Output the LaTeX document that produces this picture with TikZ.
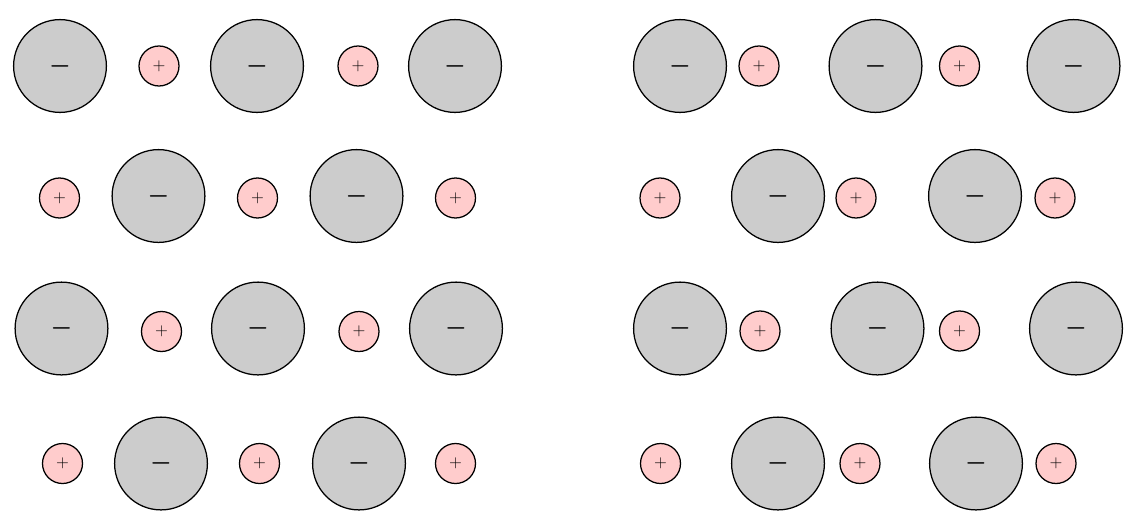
\documentclass[tikz,border=0pt]{standalone}
\definecolor{anionfill}{RGB}{204,204,204}
\definecolor{cationfill}{RGB}{255,204,204}
\begin{document}
\begin{tikzpicture}[x=.25mm,y=-.25mm,line width=.9pt,
 anion/.style={circle,draw,fill=anionfill,inner sep=0pt,minimum size=23.2mm,
  font=\fontsize{16}{18}\selectfont\boldmath},
 cation/.style={circle,draw,fill=cationfill,inner sep=0pt,minimum size=10mm,
  font=\fontsize{12.5}{14}\selectfont}]
\useasboundingbox (0,0) rectangle (1127,519);
% left lattice, row 1: - + - + -
\node[anion] (L1a1) at (60,66) {$-$};
\node[cation] (L1c1) at (159,66) {$+$};
\node[anion] (L1a2) at (257,66) {$-$};
\node[cation] (L1c2) at (358,66) {$+$};
\node[anion] (L1a3) at (455,66) {$-$};
% left lattice, row 2: + - + - +
\node[cation] (L2c1) at (59.5,198) {$+$};
\node[anion] (L2a1) at (158.5,196) {$-$};
\node[cation] (L2c2) at (257.5,198) {$+$};
\node[anion] (L2a2) at (356.5,196) {$-$};
\node[cation] (L2c3) at (455.5,198) {$+$};
% left lattice, row 3
\node[anion] (L3a1) at (61.5,328.5) {$-$};
\node[cation] (L3c1) at (161.5,331.5) {$+$};
\node[anion] (L3a2) at (258,328.5) {$-$};
\node[cation] (L3c2) at (359,331.5) {$+$};
\node[anion] (L3a3) at (456,328.5) {$-$};
% left lattice, row 4
\node[cation] (L4c1) at (62.5,463.5) {$+$};
\node[anion] (L4a1) at (161,463.5) {$-$};
\node[cation] (L4c2) at (259.5,463.5) {$+$};
\node[anion] (L4a2) at (359,463.5) {$-$};
\node[cation] (L4c3) at (455.5,463.5) {$+$};
% right lattice, row 1: cations shifted next to the anions
\node[anion] (R1a1) at (680,66) {$-$};
\node[cation] (R1c1) at (759,66) {$+$};
\node[anion] (R1a2) at (875.5,66) {$-$};
\node[cation] (R1c2) at (959.5,66) {$+$};
\node[anion] (R1a3) at (1073.5,66) {$-$};
% right lattice, row 2
\node[cation] (R2c1) at (660,198) {$+$};
\node[anion] (R2a1) at (778,196) {$-$};
\node[cation] (R2c2) at (856,198) {$+$};
\node[anion] (R2a2) at (975,196) {$-$};
\node[cation] (R2c3) at (1055,198) {$+$};
% right lattice, row 3
\node[anion] (R3a1) at (680,328.5) {$-$};
\node[cation] (R3c1) at (760,331) {$+$};
\node[anion] (R3a2) at (877.5,328.5) {$-$};
\node[cation] (R3c2) at (959.5,331) {$+$};
\node[anion] (R3a3) at (1076,328.5) {$-$};
% right lattice, row 4
\node[cation] (R4c1) at (660.5,463.5) {$+$};
\node[anion] (R4a1) at (778,463.5) {$-$};
\node[cation] (R4c2) at (860,463.5) {$+$};
\node[anion] (R4a2) at (976,463.5) {$-$};
\node[cation] (R4c3) at (1056,463.5) {$+$};
\end{tikzpicture}
\end{document}
